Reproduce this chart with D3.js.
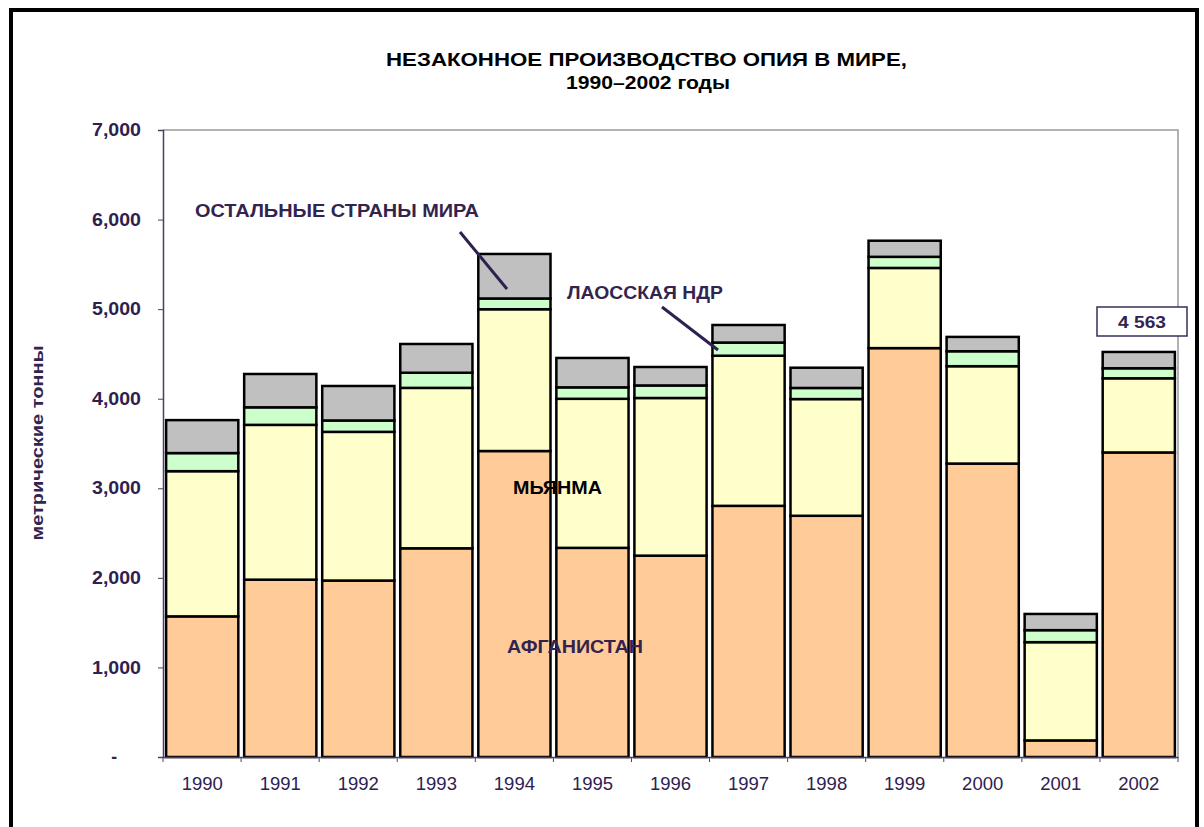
<!DOCTYPE html>
<html lang="ru">
<head>
<meta charset="UTF-8">
<title>Незаконное производство опия в мире</title>
<style>
  body { margin: 0; padding: 0; background: #fff; font-family: Arial, 'Liberation Sans', sans-serif; }
  svg { display: block; }
  .tick-y text { font-weight: bold; font-size: 17.5px; fill: #2e2150; font-family: Arial, 'Liberation Sans', sans-serif; }
  .tick-x text { font-size: 18.5px; fill: #2e2150; font-family: Arial, 'Liberation Sans', sans-serif; }
  .note { font-weight: bold; font-size: 18px; fill: #33244f; }
</style>
</head>
<body>
<svg width="1204" height="827"></svg>
<script src="https://d3js.org/d3.v7.min.js"></script>
<script>
  const years = ["1990","1991","1992","1993","1994","1995","1996","1997","1998","1999","2000","2001","2002"];
  const afghanistan = [1570, 1980, 1970, 2330, 3416, 2335, 2248, 2804, 2693, 4565, 3276, 185, 3400];
  const myanmar     = [1621, 1728, 1660, 1791, 1583, 1664, 1760, 1676, 1303, 895, 1087, 1097, 828];
  const laos        = [202, 196, 127, 169, 120, 128, 140, 147, 124, 124, 167, 134, 112];
  const restOfWorld = [368, 372, 385, 321, 497, 328, 206, 196, 226, 180, 160, 181, 182];
  const yTicks = [0, 1000, 2000, 3000, 4000, 5000, 6000, 7000];

  const series = [
    { key: "afg", values: afghanistan, color: "#ffcc99" },
    { key: "mya", values: myanmar, color: "#ffffcc" },
    { key: "lao", values: laos, color: "#ccffcc" },
    { key: "rest", values: restOfWorld, color: "#c0c0c0" }
  ];

  const svg = d3.select("svg");
  const plotLeft = 163, plotRight = 1178, plotTop = 130, plotBottom = 757;

  const x = d3.scaleBand().domain(years).range([plotLeft, plotRight]).paddingInner(0.075).paddingOuter(0.04);
  const y = d3.scaleLinear().domain([0, 7000]).range([plotBottom, plotTop]);

  // helper: bold label stretched to the width seen in the picture
  function label(txt, px, py, w, opts = {}) {
    const t = svg.append("text").attr("class", "note")
      .attr("x", px).attr("y", py)
      .attr("textLength", w).attr("lengthAdjust", "spacingAndGlyphs")
      .text(txt);
    if (opts.size) t.style("font-size", opts.size + "px");
    if (opts.fill) t.style("fill", opts.fill);
    if (opts.anchor) t.attr("text-anchor", opts.anchor);
    return t;
  }

  // outer frame
  svg.append("rect").attr("x", 11).attr("y", 10).attr("width", 1186).attr("height", 840)
    .attr("fill", "none").attr("stroke", "#000").attr("stroke-width", 4);

  // title
  label("НЕЗАКОННОЕ ПРОИЗВОДСТВО ОПИЯ В МИРЕ,", 386, 66, 521, { size: 18.5, fill: "#000" });
  label("1990–2002 годы", 566, 89, 164, { size: 18.5, fill: "#000" });

  // plot area border (top and right, gray)
  svg.append("path").attr("d", `M${plotLeft},${plotTop}H${plotRight}V${plotBottom}`)
    .attr("fill", "none").attr("stroke", "#999").attr("stroke-width", 1.5);

  // stacked bars
  const stackData = years.map((yr, i) => {
    const row = { year: yr };
    series.forEach(s => row[s.key] = s.values[i]);
    return row;
  });
  const stacked = d3.stack().keys(series.map(s => s.key))(stackData);

  svg.append("g").selectAll("g").data(stacked).join("g")
    .attr("fill", (d, i) => series[i].color)
    .selectAll("rect").data(d => d).join("rect")
    .attr("x", d => x(d.data.year))
    .attr("y", d => y(d[1]))
    .attr("width", x.bandwidth())
    .attr("height", d => y(d[0]) - y(d[1]))
    .attr("stroke", "#000").attr("stroke-width", 2.5);

  // y axis
  const yAxis = svg.append("g").attr("class", "tick-y")
    .attr("transform", `translate(${plotLeft},0)`)
    .call(d3.axisLeft(y).tickValues(yTicks).tickSize(5).tickPadding(17)
      .tickFormat(d => d === 0 ? "-" : d3.format(",")(d)));
  yAxis.select(".domain").attr("stroke", "#4a3f68").attr("stroke-width", 1.5);
  yAxis.selectAll(".tick line").attr("stroke", "#4a3f68");
  yAxis.selectAll(".tick text").filter(d => d > 0)
    .attr("textLength", 49).attr("lengthAdjust", "spacingAndGlyphs");
  yAxis.selectAll(".tick").filter(d => d === 0).select("text").attr("dx", -24);

  // x axis
  const xEdges = d3.range(years.length + 1).map(i => plotLeft + i * (plotRight - plotLeft) / years.length);
  const xAxis = svg.append("g").attr("class", "tick-x")
    .attr("transform", `translate(0,${plotBottom})`)
    .call(d3.axisBottom(x).tickSize(0).tickPadding(20));
  xAxis.select(".domain").attr("stroke", "#4a3f68").attr("stroke-width", 1.5);
  xAxis.selectAll(".edge").data(xEdges).join("line").attr("class", "edge")
    .attr("x1", d => d).attr("x2", d => d).attr("y1", 0).attr("y2", 5)
    .attr("stroke", "#4a3f68");

  // y axis title
  svg.append("text").attr("class", "note")
    .attr("transform", "translate(43,443) rotate(-90)")
    .attr("text-anchor", "middle").style("font-size", "16.5px")
    .attr("textLength", 195).attr("lengthAdjust", "spacingAndGlyphs")
    .text("метрические тонны");

  // annotations
  label("ОСТАЛЬНЫЕ СТРАНЫ МИРА", 195, 217, 284);
  svg.append("line").attr("x1", 460).attr("y1", 232).attr("x2", 507).attr("y2", 289)
    .attr("stroke", "#2e2150").attr("stroke-width", 3);
  label("ЛАОССКАЯ НДР", 567, 299, 156);
  svg.append("line").attr("x1", 662).attr("y1", 307).attr("x2", 718).attr("y2", 350)
    .attr("stroke", "#2e2150").attr("stroke-width", 3);
  label("МЬЯНМА", 513, 494, 89, { size: 18.5, fill: "#000" });
  label("АФГАНИСТАН", 507, 653, 136, { size: 18.5 });

  // total label box
  svg.append("rect").attr("x", 1097).attr("y", 307).attr("width", 90).attr("height", 29)
    .attr("fill", "#fff").attr("stroke", "#3a2c5c").attr("stroke-width", 1.5);
  label("4 563", 1118, 327.5, 48, { size: 17 });
</script>
</body>
</html>
